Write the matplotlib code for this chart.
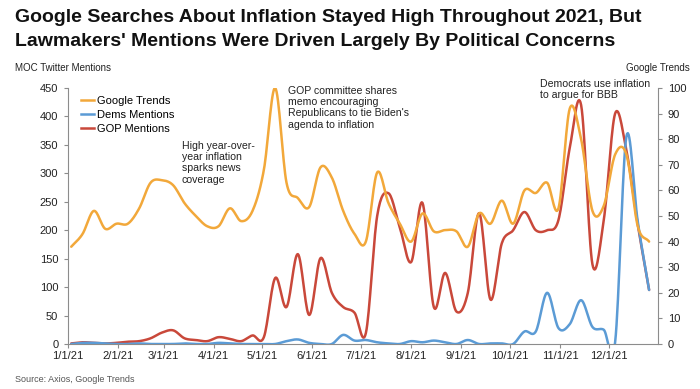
import numpy as np
import matplotlib
matplotlib.use("Agg")
import matplotlib.pyplot as plt
import matplotlib.dates as mdates
import datetime as dt
from matplotlib.lines import Line2D

plt.rcParams['font.family'] = ['Liberation Sans', 'DejaVu Sans']

# ---- data (weekly, weeks starting 2021-01-03) ----
first_week = dt.date(2021, 1, 3)
google_trends = [38, 43, 52, 45, 47, 47, 53, 63, 64, 62, 55, 50, 46, 46, 53, 48, 52, 68,
                 100, 63, 57, 53.5, 69, 65, 52, 43, 40, 67, 55, 47, 40, 51, 44, 44.5, 44,
                 38, 51, 47, 56, 47, 60, 59, 63, 53, 92, 80, 52, 54, 74, 74, 46, 40]
dems_mentions = [0, 2, 2, 1, 0, 0, 1, 0, 0, 0, 1, 0, 0, 2, 1, 0, 0, 0,
                 0, 5, 8, 2, 0, 0, 16, 6, 7, 3, 1, 0, 5, 3, 6, 3, 0,
                 7, 0, 1, 1, 0, 22, 22, 90, 28, 35, 77, 30, 25, 3, 365, 215, 95]
gop_mentions = [1, 3, 2, 1, 2, 4, 5, 10, 20, 24, 10, 7, 5, 12, 9, 5, 15, 12,
                116, 65, 158, 51, 151, 90, 65, 55, 19, 225, 265, 205, 144, 248, 65, 125, 57,
                90, 230, 78, 177, 200, 232, 200, 200, 218, 345, 420, 140, 218, 405, 340, 210, 95]

month_ticks = [dt.date(2021, m, 1) for m in range(1, 13)]
month_labels = ["1/1/21", "2/1/21", "3/1/21", "4/1/21", "5/1/21", "6/1/21",
                "7/1/21", "8/1/21", "9/1/21", "10/1/21", "11/1/21", "12/1/21"]
left_ticks = [0, 50, 100, 150, 200, 250, 300, 350, 400, 450]
right_ticks = [0, 10, 20, 30, 40, 50, 60, 70, 80, 90, 100]

C_GOOGLE = "#F2A83A"
C_DEMS = "#5B9BD5"
C_GOP = "#C9483A"
AX_GRAY = "#8C8C8C"


def smooth(xv, yv, n=16):
    """Excel-like smoothed line (Bezier through the points)."""
    P = np.column_stack([np.asarray(xv, float), np.asarray(yv, float)])
    E = np.vstack([2 * P[0] - P[1], P, 2 * P[-1] - P[-2]])
    t = np.linspace(0, 1, n, endpoint=False)[:, None]
    segs = []
    for i in range(1, len(E) - 2):
        p0, p1, p2, p3 = E[i - 1], E[i], E[i + 1], E[i + 2]
        c1 = p1 + (p2 - p0) / 6.0
        c2 = p2 - (p3 - p1) / 6.0
        segs.append((1 - t) ** 3 * p1 + 3 * (1 - t) ** 2 * t * c1 + 3 * (1 - t) * t ** 2 * c2 + t ** 3 * p2)
    segs.append(P[-1][None, :])
    S = np.vstack(segs)
    return S[:, 0], S[:, 1]


dates = [first_week + dt.timedelta(weeks=i) for i in range(len(google_trends))]
xn = mdates.date2num(dates)

fig = plt.figure(figsize=(7.0, 3.89), dpi=100)
ax = fig.add_axes([68 / 700, 1 - 344 / 389, (658 - 68) / 700, (344 - 88) / 389])
ax2 = ax.twinx()

xs, ys = smooth(xn, gop_mentions)
ax.plot(xs, ys, color=C_GOP, lw=1.8, solid_capstyle='round', zorder=2)
xs, ys = smooth(xn, dems_mentions)
ax.plot(xs, ys, color=C_DEMS, lw=1.8, solid_capstyle='round', zorder=3)
xs, ys = smooth(xn, google_trends)
ax2.plot(xs, ys, color=C_GOOGLE, lw=1.8, solid_capstyle='round')

ax.set_xlim(mdates.date2num(dt.date(2021, 1, 1)), mdates.date2num(dt.date(2021, 12, 31)) + 0.5)
ax.set_ylim(0, 450)
ax2.set_ylim(0, 100)
ax.set_xticks(mdates.date2num(month_ticks))
ax.set_xticklabels(month_labels)
ax.set_yticks(left_ticks)
ax2.set_yticks(right_ticks)

for a in (ax, ax2):
    a.spines['top'].set_visible(False)
    for s in ('left', 'right', 'bottom'):
        a.spines[s].set_color(AX_GRAY)
        a.spines[s].set_linewidth(0.8)
    a.tick_params(axis='both', colors=AX_GRAY, labelcolor="#222222", labelsize=8,
                  length=3, width=0.8, pad=2)
ax.spines['right'].set_visible(False)
ax2.spines['left'].set_visible(False)
ax2.spines['bottom'].set_visible(False)
ax.tick_params(axis='y', direction='out', pad=4)
ax2.tick_params(axis='y', direction='out', pad=4)
ax.tick_params(axis='x', direction='out', pad=2)
ax.patch.set_visible(False)

handles = [Line2D([], [], color=C_GOOGLE, lw=1.8),
           Line2D([], [], color=C_DEMS, lw=1.8),
           Line2D([], [], color=C_GOP, lw=1.8)]
leg = ax.legend(handles, ["Google Trends", "Dems Mentions", "GOP Mentions"],
                loc='upper left', bbox_to_anchor=(0.01, 0.995), frameon=False,
                fontsize=8, handlelength=1.2, handletextpad=0.3, labelspacing=0.35,
                borderaxespad=0.2)

# annotations
ann_kw = dict(fontsize=7.6, color="#222222", va='top', ha='left', linespacing=1.15)
fig.text(182 / 700, 1 - 141 / 389, "High year-over-\nyear inflation\nsparks news\ncoverage", **ann_kw)
fig.text(288 / 700, 1 - 86 / 389, "GOP committee shares\nmemo encouraging\nRepublicans to tie Biden's\nagenda to inflation", **ann_kw)
fig.text(540 / 700, 1 - 79 / 389, "Democrats use inflation\nto argue for BBB", **ann_kw)

# titles and labels
fig.text(15 / 700, 1 - 9 / 389,
         "Google Searches About Inflation Stayed High Throughout 2021, But\n"
         "Lawmakers' Mentions Were Driven Largely By Political Concerns",
         fontsize=14, fontweight='bold', color="#111111", va='top', ha='left', linespacing=1.55)
fig.text(15 / 700, 1 - 68 / 389, "MOC Twitter Mentions", fontsize=7, color="#222222", va='center', ha='left')
fig.text(690 / 700, 1 - 68 / 389, "Google Trends", fontsize=7, color="#222222", va='center', ha='right')
fig.text(15 / 700, 1 - 379 / 389, "Source: Axios, Google Trends", fontsize=6.5, color="#555555", va='center', ha='left')

fig.savefig("out.png", dpi=100)
